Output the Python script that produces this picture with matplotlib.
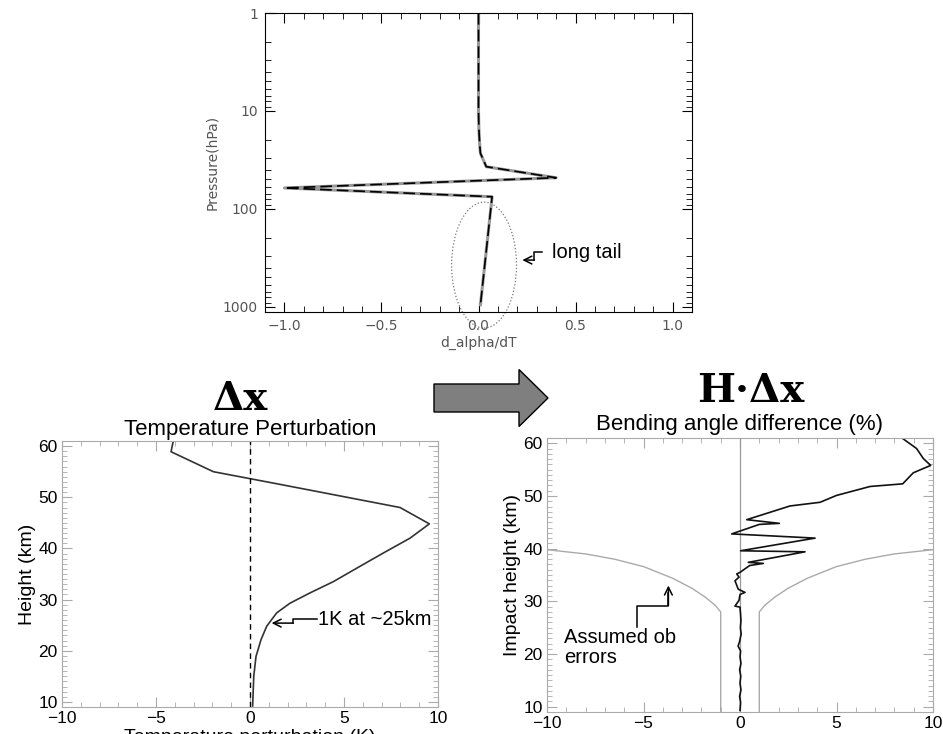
import matplotlib
matplotlib.use("Agg")
import matplotlib.pyplot as plt
from matplotlib.patches import Ellipse, FancyArrow
from matplotlib.ticker import MultipleLocator, FixedLocator, NullFormatter, FuncFormatter

# top panel: d_alpha/dT against pressure
top_p = [1, 10, 15, 22, 27, 37, 48, 61, 75, 950]
top_dadt = [0.0, 0.0, 0.002, 0.006, 0.01, 0.04, 0.40, -1.0, 0.07, 0.01]

# bottom left: temperature perturbation (K) against height (km)
temp_height = [61.0, 58.9, 55.0, 52.4, 48.0, 44.8, 42.0, 39.1, 36.5, 33.5,
               31.3, 29.3, 27.4, 24.8, 22.2, 18.9, 15.0, 9.2]
temp_pert = [-4.08, -4.2, -1.95, 1.77, 7.98, 9.54, 8.51, 7.09, 5.85, 4.43,
             3.19, 2.13, 1.42, 0.89, 0.59, 0.32, 0.2, 0.14]

# bottom right: bending angle difference (%) against impact height (km)
bend_height = [60.9, 59.0, 57.1, 55.8, 54.4, 52.3, 51.8, 50.1, 48.8, 48.1,
               45.5, 44.8, 44.6, 42.8, 42.0, 39.6, 39.4, 37.4, 37.2, 36.8,
               35.5, 35.2, 34.6, 33.9, 32.3, 31.7, 31.3, 30.2, 29.1, 28.9,
               27.5, 26.3, 25.0, 23.8, 22.4, 21.5, 20.6, 19.5, 18.2, 17.0,
               15.8, 14.5, 13.2, 12.0, 10.8, 9.3]
bend_diff = [8.43, 9.15, 9.5, 9.88, 8.98, 8.43, 6.74, 5.0, 4.15, 2.59,
             0.35, 2.04, 1.0, -0.43, 3.89, 0.03, 3.37, 0.43, 1.21, 0.5,
             0.0, -0.17, -0.05, -0.26, -0.09, 0.26, 0.0, -0.05, -0.26, 0.0,
             0.03, 0.05, 0.02, 0.06, -0.02, -0.1, 0.03, 0.0, 0.05, -0.02,
             0.04, 0.0, 0.05, -0.02, 0.03, 0.0]

# assumed observation error envelope (%), mirrored about zero
err_height = [9.0, 28.0, 29.3, 30.8, 32.5, 34.4, 36.6, 38.0, 39.0, 39.8]
err_pct = [1.0, 1.0, 1.3, 1.8, 2.5, 3.5, 5.0, 6.5, 8.0, 10.0]

W, H = 943, 734
fig = plt.figure(figsize=(W / 100, H / 100), dpi=100)


def fig_box(left, top, right, bottom):
    # pixel box -> figure fraction rect
    return [left / W, 1 - bottom / H, (right - left) / W, (bottom - top) / H]


def step_arrow(ax, tip, corner_x, end, **kw):
    # arrowhead at tip, horizontal to corner_x, vertical step, horizontal to end
    ax.plot([corner_x, corner_x, end[0]], [tip[1], end[1], end[1]],
            color="black", lw=1.1, clip_on=False, **kw)
    ax.annotate("", xy=tip, xytext=(corner_x, tip[1]),
                arrowprops=dict(arrowstyle="->", lw=1.1, color="black",
                                shrinkA=0, shrinkB=0, mutation_scale=14),
                annotation_clip=False)


def minus_fmt(fmt):
    return FuncFormatter(lambda v, p: format(v, fmt).replace("-", "\u2212"))


# ---------------- top panel ----------------
ax0 = fig.add_axes(fig_box(265, 13, 692, 312))
ax0.plot(top_dadt, top_p, color="#999999", lw=2.2)
ax0.plot(top_dadt, top_p, color="black", lw=1.2, dashes=(7, 3))
ax0.set_yscale("log")
ax0.set_ylim(1125, 1)
ax0.set_xlim(-1.1, 1.1)
ax0.xaxis.set_major_locator(MultipleLocator(0.5))
ax0.xaxis.set_minor_locator(MultipleLocator(0.1))
ax0.xaxis.set_major_formatter(minus_fmt(".1f"))
ax0.yaxis.set_major_locator(FixedLocator([1, 10, 100, 1000]))
ax0.yaxis.set_major_formatter(FuncFormatter(lambda v, p: f"{v:.0f}"))
ax0.yaxis.set_minor_formatter(NullFormatter())
ax0.tick_params(which="both", direction="in", top=True, right=True,
                labelsize=10, labelcolor="#555555", pad=5)
ax0.tick_params(which="major", length=7)
ax0.tick_params(which="minor", length=4)
ax0.set_xlabel("d_alpha/dT", fontsize=10, color="#555555", labelpad=2)
ax0.set_ylabel("Pressure(hPa)", fontsize=10, color="#555555", labelpad=3)

ell = Ellipse((0.513, 0.157), 0.152, 0.421, transform=ax0.transAxes,
              fill=False, edgecolor="#777777", lw=0.9, ls=":", clip_on=False)
ax0.add_patch(ell)
step_arrow(ax0, (0.226, 332), 0.288, (0.329, 275))
ax0.text(0.38, 275, "long tail", fontsize=14.5, family="Liberation Sans",
         va="center", ha="left")

# ---------------- bottom left ----------------
ax1 = fig.add_axes(fig_box(62, 441, 438, 707))
ax1.plot(temp_pert, temp_height, color="#333333", lw=1.2)
ax1.axvline(0, color="black", lw=1.0, ls=(0, (4, 3)))
ax1.set_xlim(-10, 10)
ax1.set_ylim(9, 61)
ax1.set_title("Temperature Perturbation", fontsize=16,
              family="Liberation Sans", pad=4)
ax1.set_ylabel("Height (km)", fontsize=14, family="Liberation Sans", labelpad=2)
ax1.set_xlabel("Temperature perturbation (K)", fontsize=14,
               family="Liberation Sans", labelpad=2)
step_arrow(ax1, (1.15, 25.4), 2.3, (3.55, 26.15))
ax1.text(3.6, 26.2, "1K at ~25km", fontsize=14.5, family="Liberation Sans",
         va="center", ha="left")

# ---------------- bottom right ----------------
ax2 = fig.add_axes(fig_box(547, 438, 933, 712))
ax2.axvline(0, color="#999999", lw=0.9)
ax2.plot(err_pct, err_height, color="#aaaaaa", lw=1.0)
ax2.plot([-v for v in err_pct], err_height, color="#aaaaaa", lw=1.0)
ax2.plot(bend_diff, bend_height, color="#111111", lw=1.2)
ax2.set_xlim(-10, 10)
ax2.set_ylim(9, 61)
ax2.set_title("Bending angle difference (%)", fontsize=16,
              family="Liberation Sans", pad=6)
ax2.set_ylabel("Impact height (km)", fontsize=14, family="Liberation Sans",
               labelpad=2)

# "Assumed ob errors" pointer: vertical tip, so drawn with explicit segments
ax2.plot([-5.32, -5.32, -3.71, -3.71], [25.1, 29.2, 29.2, 31.5],
         color="black", lw=1.1)
ax2.annotate("", xy=(-3.71, 33.0), xytext=(-3.71, 29.2),
             arrowprops=dict(arrowstyle="->", lw=1.1, color="black",
                             shrinkA=0, shrinkB=0, mutation_scale=14))
ax2.text(-9.12, 21.2, "Assumed ob\nerrors", fontsize=14.5,
         family="Liberation Sans", va="center", ha="left", linespacing=1.1)

for ax in (ax1, ax2):
    ax.xaxis.set_major_locator(MultipleLocator(5))
    ax.xaxis.set_minor_locator(MultipleLocator(1))
    ax.yaxis.set_major_locator(MultipleLocator(10))
    ax.yaxis.set_minor_locator(MultipleLocator(1))
    ax.xaxis.set_major_formatter(minus_fmt(".0f"))
    ax.tick_params(which="both", direction="in", top=True, right=True,
                   color="#aaaaaa", labelsize=12.5, pad=3)
    ax.tick_params(which="major", length=7)
    ax.tick_params(which="minor", length=3.5)
    for lab in ax.get_xticklabels() + ax.get_yticklabels():
        lab.set_family("Liberation Sans")
    for s in ax.spines.values():
        s.set_color("#aaaaaa")

# block arrow between the two bottom panels
fig.patches.append(FancyArrow(434 / W, 1 - 398 / H, 114 / W, 0,
                              width=28 / H, head_width=57 / H,
                              head_length=29 / W, length_includes_head=True,
                              transform=fig.transFigure, facecolor="#7f7f7f",
                              edgecolor="black", lw=1.0))

fig.text(240 / W, 1 - 399 / H, "\u0394x", fontsize=29, family="DejaVu Serif",
         weight="bold", ha="center", va="center")
fig.text(751 / W, 1 - 391 / H, "H\u00b7\u0394x", fontsize=29,
         family="DejaVu Serif", weight="bold", ha="center", va="center")

fig.savefig("out.png", dpi=100)
